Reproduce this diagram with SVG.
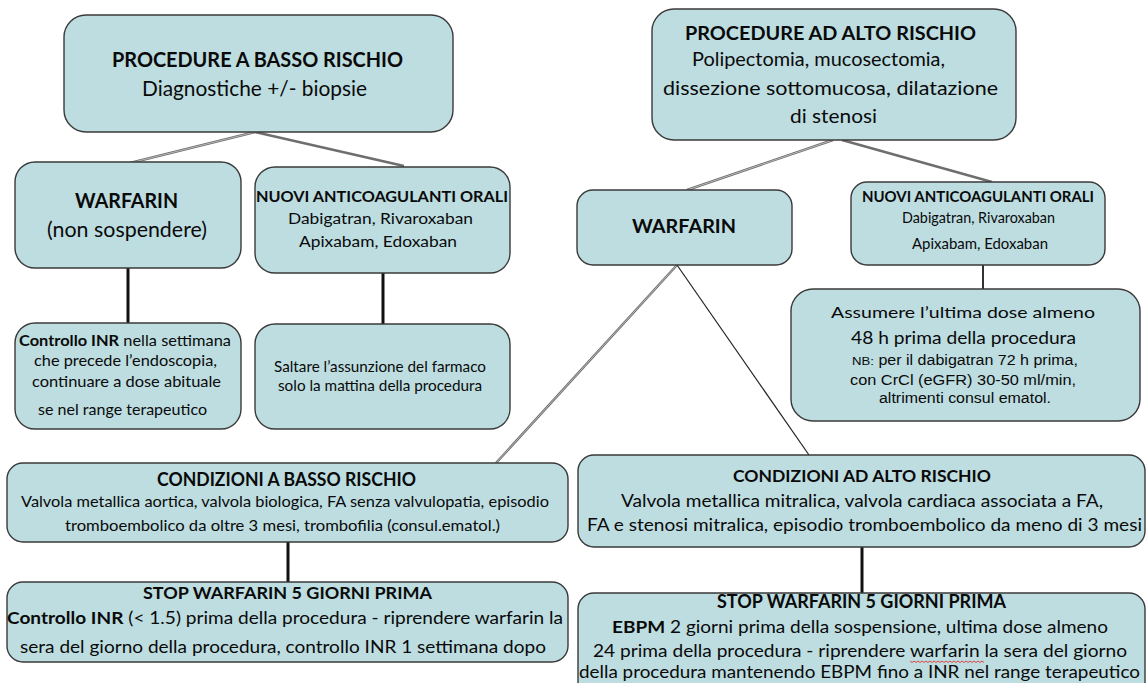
<svg xmlns="http://www.w3.org/2000/svg" width="1147" height="683" viewBox="0 0 1147 683">
<style>
.box{fill:#bddde1;stroke:#3a3a3a;stroke-width:1.4}
text{font-family:Lato,"Open Sans","Liberation Sans",sans-serif;fill:#0a0a0a}
.b{font-weight:bold}
.ar{font-family:"Liberation Sans",Arial,sans-serif}
.thick{stroke:#111;stroke-width:3;fill:none}
.gray{stroke:#6e6e6e;stroke-width:2.4;fill:none}
.grayin{stroke:#d8d8d8;stroke-width:0.7;fill:none}
.thin{stroke:#222;stroke-width:1.2;fill:none}
</style>
<rect width="1147" height="683" fill="#fff"/>
<g id="connectors">
<line class="gray" x1="255" y1="132" x2="130" y2="163"/>
<line class="gray" x1="255" y1="132" x2="404" y2="166"/>
<line class="gray" x1="833" y1="140" x2="687" y2="190"/>
<line class="gray" x1="842" y1="140" x2="992" y2="182"/>
<line class="gray" x1="677" y1="265" x2="496" y2="463"/>
<line class="grayin" x1="255" y1="132" x2="130" y2="163"/>
<line class="grayin" x1="833" y1="140" x2="687" y2="190"/>
<line class="grayin" x1="677" y1="265" x2="496" y2="463"/>
<line class="thin" x1="677" y1="265" x2="809" y2="455"/>
<line class="thick" x1="128" y1="268" x2="128" y2="323"/>
<line class="thick" x1="383" y1="273" x2="383" y2="324"/>
<line stroke="#333" stroke-width="2" x1="983" y1="265" x2="983" y2="289"/>
<line class="thick" x1="288" y1="542" x2="288" y2="582"/>
<line class="thick" x1="862" y1="547" x2="862" y2="593"/>
</g>
<g id="proc-basso">
<rect class="box" x="64" y="15" width="389" height="117" rx="22"/>
<text class="b" x="112" y="67" font-size="20.5" textLength="291" lengthAdjust="spacingAndGlyphs">PROCEDURE A BASSO RISCHIO</text>
<text x="142" y="96" font-size="20.5" textLength="225" lengthAdjust="spacingAndGlyphs">Diagnostiche +/- biopsie</text>
</g>
<g id="warfarin-sx">
<rect class="box" x="15" y="162" width="226" height="106" rx="20"/>
<text class="b" x="75" y="208" font-size="20.5" textLength="103" lengthAdjust="spacingAndGlyphs">WARFARIN</text>
<text x="47" y="237" font-size="20.5" textLength="160" lengthAdjust="spacingAndGlyphs">(non sospendere)</text>
</g>
<g id="nao-sx">
<rect class="box" x="255" y="167" width="255" height="106" rx="20"/>
<text class="b" x="256" y="202" font-size="16" textLength="252" lengthAdjust="spacingAndGlyphs">NUOVI ANTICOAGULANTI ORALI</text>
<text x="288" y="224" font-size="16" textLength="185" lengthAdjust="spacingAndGlyphs">Dabigatran, Rivaroxaban</text>
<text x="299" y="247" font-size="16" textLength="158" lengthAdjust="spacingAndGlyphs">Apixabam, Edoxaban</text>
</g>
<g id="inr-sx">
<rect class="box" x="15" y="323" width="226" height="106" rx="20"/>
<text x="19" y="346" font-size="16" textLength="212" lengthAdjust="spacingAndGlyphs"><tspan class="b">Controllo INR</tspan> nella settimana</text>
<text x="34" y="366" font-size="16" textLength="183" lengthAdjust="spacingAndGlyphs">che precede l’endoscopia,</text>
<text x="32" y="387" font-size="16" textLength="189" lengthAdjust="spacingAndGlyphs">continuare a dose abituale</text>
<text x="38" y="415" font-size="16" textLength="169" lengthAdjust="spacingAndGlyphs">se nel range terapeutico</text>
</g>
<g id="saltare">
<rect class="box" x="255" y="324" width="255" height="105" rx="20"/>
<text x="274" y="372" font-size="15" textLength="212" lengthAdjust="spacingAndGlyphs">Saltare l’assunzione del farmaco</text>
<text x="278" y="391" font-size="15" textLength="204" lengthAdjust="spacingAndGlyphs">solo la mattina della procedura</text>
</g>
<g id="cond-basso">
<rect class="box" x="7" y="463" width="561" height="79" rx="16"/>
<text class="b" x="157" y="486" font-size="18" textLength="259" lengthAdjust="spacingAndGlyphs">CONDIZIONI A BASSO RISCHIO</text>
<text x="21" y="507" font-size="15" textLength="528" lengthAdjust="spacingAndGlyphs">Valvola metallica aortica, valvola biologica, FA senza valvulopatia, episodio</text>
<text x="65" y="531" font-size="15" textLength="435" lengthAdjust="spacingAndGlyphs">tromboembolico da oltre 3 mesi, trombofilia (consul.ematol.)</text>
</g>
<g id="stop-sx">
<rect class="box" x="7" y="582" width="561" height="80" rx="16"/>
<text class="b" x="143" y="599" font-size="17.5" textLength="289" lengthAdjust="spacingAndGlyphs">STOP WARFARIN 5 GIORNI PRIMA</text>
<text x="7" y="624" font-size="17.5" textLength="556" lengthAdjust="spacingAndGlyphs"><tspan class="b">Controllo INR</tspan> (&lt; 1.5) prima della procedura - riprendere warfarin la</text>
<text x="20" y="653" font-size="17.5" textLength="526" lengthAdjust="spacingAndGlyphs">sera del giorno della procedura, controllo INR 1 settimana dopo</text>
</g>
<g id="proc-alto">
<rect class="box" x="652" y="9" width="364" height="131" rx="22"/>
<text class="b" x="685" y="40" font-size="19.5" textLength="291" lengthAdjust="spacingAndGlyphs">PROCEDURE AD ALTO RISCHIO</text>
<text x="692" y="66" font-size="18.5" textLength="253" lengthAdjust="spacingAndGlyphs">Polipectomia, mucosectomia,</text>
<text x="663" y="95" font-size="18.5" textLength="335" lengthAdjust="spacingAndGlyphs">dissezione sottomucosa, dilatazione</text>
<text x="790" y="123" font-size="18.5" textLength="87" lengthAdjust="spacingAndGlyphs">di stenosi</text>
</g>
<g id="warfarin-dx">
<rect class="box" x="577" y="190" width="215" height="75" rx="16"/>
<text class="b" x="632" y="233" font-size="19.5" textLength="104" lengthAdjust="spacingAndGlyphs">WARFARIN</text>
</g>
<g id="nao-dx">
<rect class="box" x="851" y="182" width="254" height="83" rx="16"/>
<text class="b" x="862" y="202" font-size="14.5" textLength="232" lengthAdjust="spacingAndGlyphs">NUOVI ANTICOAGULANTI ORALI</text>
<text x="902" y="223" font-size="15" textLength="153" lengthAdjust="spacingAndGlyphs">Dabigatran, Rivaroxaban</text>
<text x="912" y="249" font-size="15" textLength="136" lengthAdjust="spacingAndGlyphs">Apixabam, Edoxaban</text>
</g>
<g id="assumere">
<rect class="box" x="791" y="289" width="349" height="132" rx="22"/>
<text x="831" y="318" font-size="16" textLength="264" lengthAdjust="spacingAndGlyphs">Assumere l’ultima dose almeno</text>
<text x="851" y="344" font-size="17" textLength="225" lengthAdjust="spacingAndGlyphs">48 h prima della procedura</text>
<text class="ar" x="852" y="365" font-size="14" textLength="226" lengthAdjust="spacingAndGlyphs"><tspan font-size="11.5">NB:</tspan> per il dabigatran 72 h prima,</text>
<text class="ar" x="850" y="385" font-size="14" textLength="226" lengthAdjust="spacingAndGlyphs">con CrCl (eGFR) 30-50 ml/min,</text>
<text class="ar" x="879" y="403" font-size="14" textLength="172" lengthAdjust="spacingAndGlyphs">altrimenti consul ematol.</text>
</g>
<g id="cond-alto">
<rect class="box" x="578" y="455" width="567" height="92" rx="16"/>
<text class="b" x="733" y="482" font-size="17.5" textLength="258" lengthAdjust="spacingAndGlyphs">CONDIZIONI AD ALTO RISCHIO</text>
<text x="621" y="507" font-size="18" textLength="482" lengthAdjust="spacingAndGlyphs">Valvola metallica mitralica, valvola cardiaca associata a FA,</text>
<text x="587" y="531" font-size="18" textLength="555" lengthAdjust="spacingAndGlyphs">FA e stenosi mitralica, episodio tromboembolico da meno di 3 mesi</text>
</g>
<g id="stop-dx">
<rect class="box" x="578" y="593" width="567" height="110" rx="16"/>
<text class="b" x="717" y="608" font-size="18" textLength="289" lengthAdjust="spacingAndGlyphs">STOP WARFARIN 5 GIORNI PRIMA</text>
<text x="612" y="633" font-size="17.5" textLength="496" lengthAdjust="spacingAndGlyphs"><tspan class="b">EBPM</tspan> 2 giorni prima della sospensione, ultima dose almeno</text>
<text x="593" y="657" font-size="17.5" textLength="534" lengthAdjust="spacingAndGlyphs">24 prima della procedura - riprendere warfarin la sera del giorno</text>
<path d="M910 661 l2 1.5 l2 -1.5 l2 1.5 l2 -1.5 l2 1.5 l2 -1.5 l2 1.5 l2 -1.5 l2 1.5 l2 -1.5 l2 1.5 l2 -1.5 l2 1.5 l2 -1.5 l2 1.5 l2 -1.5 l2 1.5 l2 -1.5 l2 1.5 l2 -1.5 l2 1.5 l2 -1.5 l2 1.5 l2 -1.5 l2 1.5 l2 -1.5 l2 1.5 l2 -1.5 l2 1.5 l2 -1.5 l2 1.5 l2 -1.5 l2 1.5 l2 -1.5 l2 1.5 l2 -1.5 l2 1.5" fill="none" stroke="#e02020" stroke-width="0.8"/>
<text x="579" y="678" font-size="17.5" textLength="561" lengthAdjust="spacingAndGlyphs">della procedura mantenendo EBPM fino a INR nel range terapeutico</text>
</g>
</svg>
